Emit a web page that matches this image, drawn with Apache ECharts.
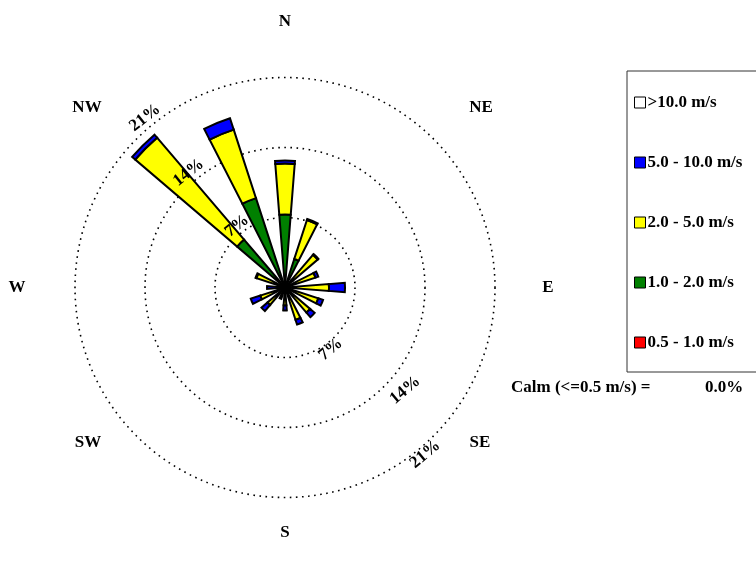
<!DOCTYPE html>
<html>
<head>
<meta charset="utf-8">
<script src="https://cdn.jsdelivr.net/npm/echarts@6/dist/echarts.min.js"></script>
<style>
html,body{margin:0;padding:0;background:#fff;}
#chart{width:756px;height:569px;}
</style>
</head>
<body>
<div id="chart"></div>
<script>
// Directions (16 sectors, clockwise from North)
const directions = ['N','NNE','NE','ENE','E','ESE','SE','SSE','S','SSW','SW','WSW','W','WNW','NW','NNW'];
// Frequency (%) by wind-speed class
const speed05to1  = [0,0,0,0,0,0,0,0,0,0,0,0,0,0,0,0];
const speed1to2   = [7.3,3.0,1.0,0.5,0.5,0.5,0.5,0.5,0.3,0.3,0.3,0.3,0.3,0.5,6.3,9.4];
const speed2to5   = [5.1,4.1,3.3,2.7,3.9,3.0,2.8,2.9,1.5,0.6,2.0,2.3,0.5,2.5,13.4,7.2];
const speed5to10  = [0.3,0.1,0.1,0.3,1.6,0.5,0.6,0.5,0.5,0.3,0.8,1.0,1.0,0.1,0.4,1.2];
const speedOver10 = [0,0,0,0,0,0,0,0,0,0,0,0,0,0,0,0];
// Ring ticks
const ringTicks = [7, 14, 21];
const ringLabels = ['7%', '14%', '21%'];
const calmLabel = 'Calm (<=0.5 m/s) =';
const calmValue = '0.0%';
const classNames = ['0.5 - 1.0 m/s','1.0 - 2.0 m/s','2.0 - 5.0 m/s','5.0 - 10.0 m/s','>10.0 m/s'];
const classColors = ['#ff0000','#008000','#ffff00','#0000ff','#ffffff'];
const classData = [speed05to1, speed1to2, speed2to5, speed5to10, speedOver10];

const CX = 285, CY = 287.5, R = 210, RMAX = 21;
const FONT = '"Liberation Serif", "Times New Roman", serif';
function pos(pct, deg) {
  const k = R / RMAX, a = deg * Math.PI / 180;
  return [CX + pct * k * Math.sin(a), CY - pct * k * Math.cos(a)];
}

const chart = echarts.init(document.getElementById('chart'), null, {renderer: 'canvas'});

const series = classNames.map((name, i) => ({
  name: name,
  type: 'bar',
  coordinateSystem: 'polar',
  stack: 'wind',
  barWidth: '40%',
  data: classData[i].map(v => v > 0 ? v : null),
  itemStyle: { color: classColors[i], borderColor: '#000', borderWidth: 2 },
  emphasis: { disabled: true },
  animation: false
}));

// direction labels
const dirLabels = [
  ['N', 285, 22], ['NE', 481, 108], ['E', 548, 288], ['SE', 480, 443],
  ['S', 285, 533], ['SW', 88, 443], ['W', 17, 288], ['NW', 87, 108]
];
const graphics = dirLabels.map(d => ({
  type: 'text', x: d[1], y: d[2], z: 100,
  style: { text: d[0], font: 'bold 17px ' + FONT, fill: '#000', textAlign: 'center', textVerticalAlign: 'middle' }
}));
// ring labels NW side and SE side
const nwPlace = [[7.8, 322], [15.0, 320], [22.0, 320.5]];
const sePlace = [[7.7, 143.6], [15.8, 130.5], [21.8, 140]];
ringTicks.forEach((t, i) => {
  [[nwPlace[i], 38], [sePlace[i], 40]].forEach(([p, rot]) => {
    const xy = pos(p[0], p[1]);
    graphics.push({
      type: 'text', x: xy[0], y: xy[1], z: 100, rotation: rot * Math.PI / 180,
      style: { text: ringLabels[i], font: 'bold 17px ' + FONT, fill: '#000', textAlign: 'center', textVerticalAlign: 'middle' }
    });
  });
});
graphics.push({
  type: 'text', x: 511, y: 388, z: 100,
  style: { text: calmLabel, font: 'bold 17px ' + FONT, fill: '#000', textAlign: 'left', textVerticalAlign: 'middle' }
});
graphics.push({
  type: 'text', x: 705, y: 388, z: 100,
  style: { text: calmValue, font: 'bold 17px ' + FONT, fill: '#000', textAlign: 'left', textVerticalAlign: 'middle' }
});

chart.setOption({
  animation: false,
  backgroundColor: '#fff',
  polar: { center: [CX, CY], radius: R },
  angleAxis: {
    type: 'category', data: directions, startAngle: 90 + 360 / directions.length / 2, clockwise: true,
    axisLine: { show: false }, axisTick: { show: false }, axisLabel: { show: false }, splitLine: { show: false }
  },
  radiusAxis: {
    type: 'value', min: 0, max: RMAX, interval: ringTicks[0],
    axisLine: { show: false }, axisTick: { show: false }, axisLabel: { show: false },
    splitLine: { show: true, lineStyle: { color: '#000', width: 1.6, type: [1.6, 4.5] } }
  },
  legend: {
    orient: 'vertical', left: 627, top: 71,
    data: classNames.slice().reverse(),
    itemWidth: 11, itemHeight: 11, itemGap: 43,
    icon: 'rect',
    padding: [23, 40, 21, 7],
    borderColor: '#333', borderWidth: 1,
    selectedMode: false,
    itemStyle: { borderColor: '#000', borderWidth: 1 },
    textStyle: { fontFamily: FONT, fontWeight: 'bold', fontSize: 17, color: '#000', padding: [0,0,0,-3] }
  },
  series: series,
  graphic: graphics
});
</script>
</body>
</html>
